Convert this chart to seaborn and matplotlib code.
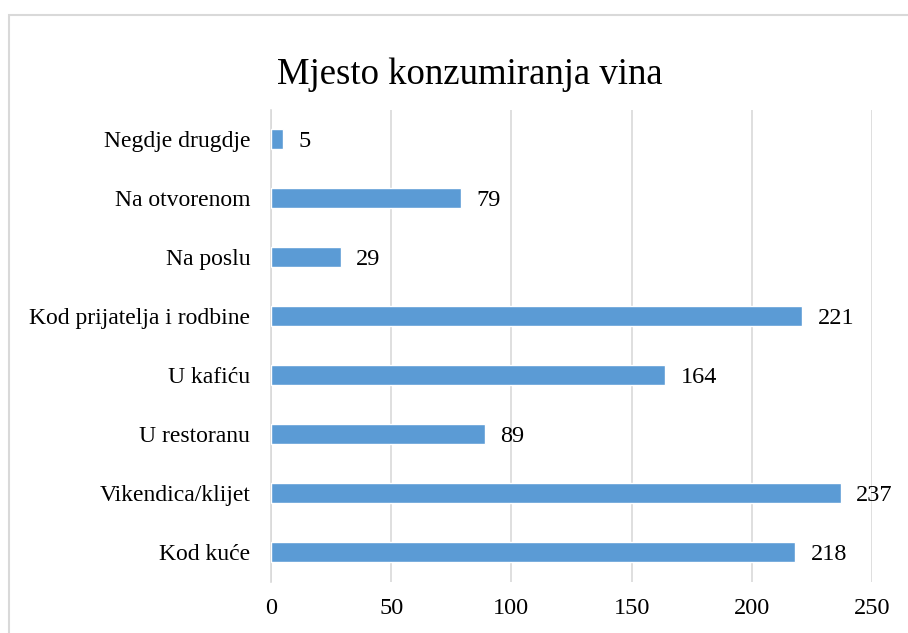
import numpy as np
import pandas as pd
import seaborn as sns
import matplotlib.pyplot as plt
from matplotlib.patches import Rectangle

# data, top to bottom as shown in the chart
mjesta = ["Negdje drugdje", "Na otvorenom", "Na poslu", "Kod prijatelja i rodbine",
          "U kafiću", "U restoranu", "Vikendica/klijet", "Kod kuće"]
broj = [5, 79, 29, 221, 164, 89, 237, 218]
x_ticks = [0, 50, 100, 150, 200, 250]

df = pd.DataFrame({"mjesto": mjesta, "broj": broj})

sns.set_style("white")
plt.rcParams['font.family'] = ['Liberation Serif', 'DejaVu Serif']

fig = plt.figure(figsize=(9.08, 6.33), dpi=100)
ax = fig.add_axes([271/908, 1 - 581.5/633, 601/908, 472/633])

# light frame around the chart (cut off at right and bottom like the original)
fig.patches.append(Rectangle((8.5/908, -0.1), 1.2, 1 - 14.5/633 + 0.1,
                             transform=fig.transFigure, fill=False,
                             edgecolor='#d9d9d9', linewidth=1.5, zorder=0))

sns.barplot(data=df, x="broj", y="mjesto", color="#5b9bd5", saturation=1,
            width=0.355, ax=ax, zorder=3)

for i, v in enumerate(broj):
    ax.text(v + 6.5, i, str(v), va='center_baseline', ha='left', fontsize=17.5, color='black')

ax.set_xlim(0, 250)
ax.set_xticks(x_ticks)
ax.set_xticklabels([str(t) for t in x_ticks], fontsize=17.5)
ax.tick_params(axis='y', labelsize=17, length=0, pad=15, labelcolor='black')
ax.tick_params(axis='x', length=0, pad=12, labelcolor='black')
ax.xaxis.grid(True, color='#d9d9d9', linewidth=1.2, zorder=0)
ax.set_axisbelow(True)
for s in ['top', 'right', 'bottom']:
    ax.spines[s].set_visible(False)
ax.spines['left'].set_color('#d9d9d9')
ax.spines['left'].set_linewidth(1.2)
ax.set_xlabel("")
ax.set_ylabel("")

fig.text(470/908, 1 - 75/633, "Mjesto konzumiranja vina", ha='center', va='center',
         fontsize=26.5, color='black')

fig.savefig("out.png", dpi=100)
